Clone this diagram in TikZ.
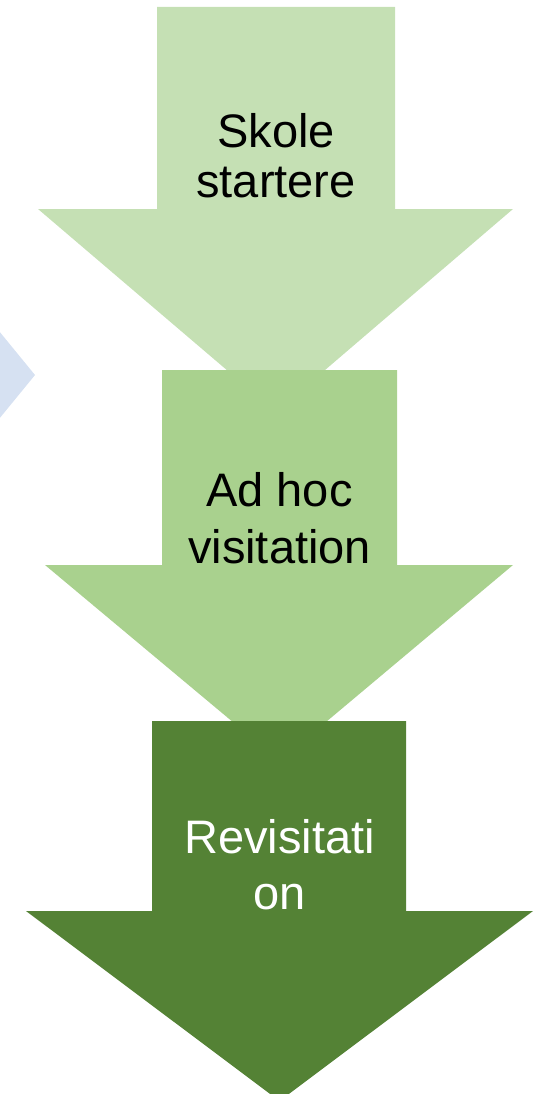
\documentclass[tikz,border=0pt]{standalone}
\usepackage{fontspec}
\setmainfont{Liberation Sans}
\definecolor{greenA}{HTML}{C5E0B4}
\definecolor{greenB}{HTML}{A9D18E}
\definecolor{greenC}{HTML}{548235}
\definecolor{paleblue}{HTML}{D6E1F2}
\begin{document}
\begin{tikzpicture}[x=1pt,y=-1pt,
  lbl/.style={anchor=base,inner sep=0pt,font=\fontsize{47}{50}\selectfont}]
\useasboundingbox (0,0) rectangle (543,1094);
\clip (0,0) rectangle (543,1094);
% chevron peeking in from the left edge
\fill[paleblue] (-10,320) -- (35,375) -- (-10,430) -- cycle;
% first step
\fill[greenA] (157,7) -- (395,7) -- (395,209) -- (513,209) -- (276,412)
  -- (38,209) -- (157,209) -- cycle;
% second step
\fill[greenB] (162,370) -- (397,370) -- (397,565) -- (513,565) -- (279.5,761)
  -- (45,565) -- (162,565) -- cycle;
% third step
\fill[greenC] (152,721) -- (406,721) -- (406,911) -- (533,911) -- (279.5,1101)
  -- (26,911) -- (152,911) -- cycle;
% labels
\node[lbl] (s1a) at (276,148) {Skole};
\node[lbl] (s1b) at (276,197) {startere};
\node[lbl] (s2a) at (279.5,506) {Ad hoc};
\node[lbl] (s2b) at (279.5,563) {visitation};
\node[lbl,text=white] (s3a) at (279.5,853) {Revisitati};
\node[lbl,text=white] (s3b) at (279.5,909) {on};
\end{tikzpicture}
\end{document}
